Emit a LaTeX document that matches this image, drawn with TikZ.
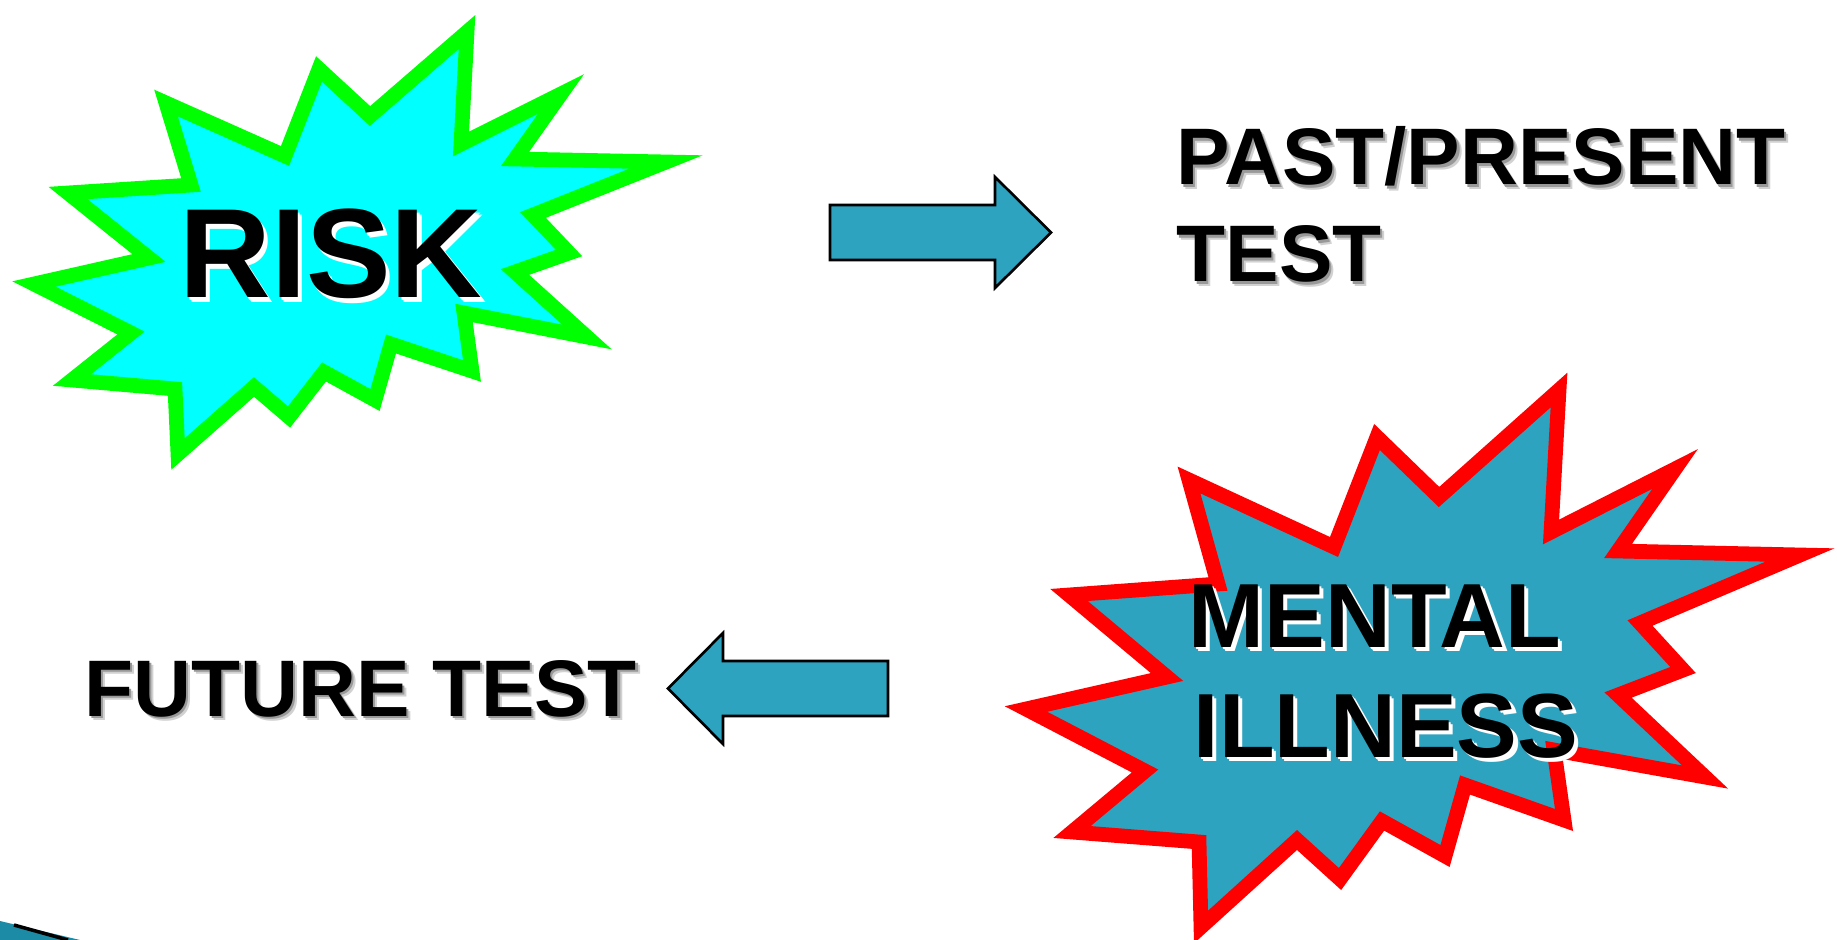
\documentclass[tikz,border=0pt]{standalone}
\usepackage{fontspec}
\setmainfont{Liberation Sans}
\definecolor{burstteal}{HTML}{2DA3BF}
\definecolor{burstgreen}{HTML}{00FF00}
\definecolor{burstcyan}{HTML}{00FFFF}
\definecolor{cornerteal}{HTML}{1B8BA6}
\colorlet{shadegray}{black!40}
\newcommand{\dropshade}[2]{\leavevmode
    \rlap{\kern1.2pt\raisebox{-1.2pt}{\color{#1!45}#2}}%
    \rlap{\kern0.6pt\raisebox{-0.6pt}{\color{#1}#2}}#2}
\begin{document}
\begin{tikzpicture}[x=0.01cm,y=-0.01cm]
    \useasboundingbox (0,0) rectangle (1837,940);
    \clip (0,0) rectangle (1837,940);
    \tikzset{burst/.style={line width=4.2pt,line join=miter},
             blockarrow/.style={draw=black,fill=burstteal,line width=0.75pt}}
    % the two bursts
    \draw[burst,draw=burstgreen,fill=burstcyan]
        (467,32) -- (461,144) -- (561,94) -- (515,159) -- (666,162) -- (533,215)
        -- (569,253) -- (515,272) -- (587,337) -- (464,313) -- (472,371) -- (391,344)
        -- (375,400) -- (324,372) -- (289,417) -- (254,387) -- (178,454) -- (175,389)
        -- (72,380) -- (131,333) -- (34,284) -- (149,258) -- (68,193) -- (191,185)
        -- (166,103) -- (285,156) -- (319,69) -- (370,116) -- cycle;
    \draw[burst,draw=red,fill=burstteal]
        (1559,390) -- (1551,532) -- (1675,469) -- (1618,551) -- (1800,555) -- (1640,623)
        -- (1683,670) -- (1618,695) -- (1705,777) -- (1554,750) -- (1564,820) -- (1465,785)
        -- (1445,856) -- (1382,821) -- (1340,879) -- (1297,840) -- (1201,927) -- (1199,842)
        -- (1072,832) -- (1145,771) -- (1026,709) -- (1167,677) -- (1069,595) -- (1218,584)
        -- (1189,480) -- (1334,547) -- (1377,437) -- (1439,497) -- cycle;
    % block arrows
    \draw[blockarrow] (830,205) -- (995,205) -- (995,177) -- (1051,232.5)
        -- (995,288) -- (995,260) -- (830,260) -- cycle;
    \draw[blockarrow] (888,661) -- (723,661) -- (723,633) -- (668,688.5)
        -- (723,744) -- (723,716) -- (888,716) -- cycle;
    % corner of the slide design
    \fill[cornerteal] (0,921) -- (80,940) -- (0,940) -- cycle;
    \draw[line width=1pt] (14,925) -- (68,940);
    \begin{scope}[every node/.style={inner sep=0pt}]
        \node (risk) [anchor=base, font=\fontsize{36.1pt}{40pt}\selectfont\bfseries]
            at (331,298) {\dropshade{white}{RISK}};
        \node (mental) [anchor=base, font=\fontsize{25.9pt}{30pt}\selectfont\bfseries]
            at (1375,647) {\dropshade{white}{MENTAL}};
        \node (illness) [anchor=base, font=\fontsize{25.9pt}{30pt}\selectfont\bfseries]
            at (1386,757) {\dropshade{white}{ILLNESS}};
        \node (past) [anchor=base west, font=\fontsize{22.8pt}{27pt}\selectfont\bfseries]
            at (1176,185) {\dropshade{shadegray}{PAST/PRESENT}};
        \node (test) [anchor=base west, font=\fontsize{22.8pt}{27pt}\selectfont\bfseries]
            at (1176,282) {\dropshade{shadegray}{TEST}};
        \node (future) [anchor=base west, font=\fontsize{22.8pt}{27pt}\selectfont\bfseries]
            at (84,716) {\dropshade{shadegray}{FUTURE TEST}};
    \end{scope}
\end{tikzpicture}
\end{document}
